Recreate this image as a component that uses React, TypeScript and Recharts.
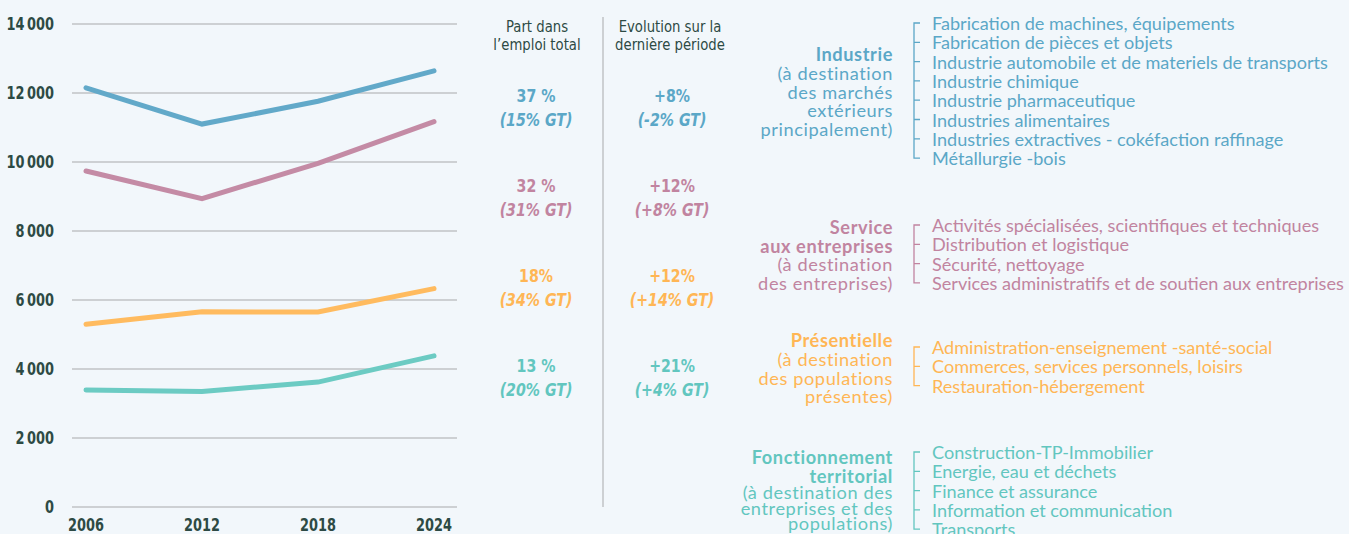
import React from "react";
import { LineChart, Line, XAxis, YAxis, CartesianGrid } from "recharts";

const years = ["2006", "2012", "2018", "2024"];
const industrie = [12150, 11100, 11760, 12640];
const service = [9740, 8940, 9960, 11170];
const presentielle = [5300, 5660, 5650, 6330];
const fonctionnement = [3390, 3350, 3620, 4380];
const yTicks = [0, 2000, 4000, 6000, 8000, 10000, 12000, 14000];

const shareHeader = ["Part dans", "l\u2019emploi total"];
const evolHeader = ["Evolution sur la", "dernière période"];
const shares = ["37 %", "32 %", "18%", "13 %"];
const sharesGT = ["(15% GT)", "(31% GT)", "(34% GT)", "(20% GT)"];
const evols = ["+8%", "+12%", "+12%", "+21%"];
const evolsGT = ["(-2% GT)", "(+8% GT)", "(+14% GT)", "(+4% GT)"];

const industrieTitle = ["Industrie"];
const industrieSub = ["(à destination", "des marchés", "extérieurs", "principalement)"];
const industrieItems = [
  "Fabrication de machines, équipements",
  "Fabrication de pièces et objets",
  "Industrie automobile et de materiels de transports",
  "Industrie chimique",
  "Industrie pharmaceutique",
  "Industries alimentaires",
  "Industries extractives - cokéfaction raffinage",
  "Métallurgie -bois",
];
const serviceTitle = ["Service", "aux entreprises"];
const serviceSub = ["(à destination", "des entreprises)"];
const serviceItems = [
  "Activités spécialisées, scientifiques et techniques",
  "Distribution et logistique",
  "Sécurité, nettoyage",
  "Services administratifs et de soutien aux entreprises",
];
const presTitle = ["Présentielle"];
const presSub = ["(à destination", "des populations", "présentes)"];
const presItems = [
  "Administration-enseignement -santé-social",
  "Commerces, services personnels, loisirs",
  "Restauration-hébergement",
];
const foncTitle = ["Fonctionnement", "territorial"];
const foncSub = ["(à destination des", "entreprises et des", "populations)"];
const foncItems = [
  "Construction-TP-Immobilier",
  "Energie, eau et déchets",
  "Finance et assurance",
  "Information et communication",
  "Transports",
];

const colors = ["#62a9c9", "#c48ba5", "#ffbb5f", "#6ccbc3"];
const textColors = ["#5ba7c7", "#c184a0", "#ffb655", "#62c6bf"];
const dark = "#2d4a44";
const condensed = "'DejaVu Sans Condensed', 'DejaVu Sans', sans-serif";
const body = "Lato, 'Open Sans', sans-serif";

const data = years.map((year, i) => ({
  year,
  industrie: industrie[i],
  service: service[i],
  presentielle: presentielle[i],
  fonctionnement: fonctionnement[i],
}));

const fmt = (v: number) => (v >= 1000 ? `${Math.floor(v / 1000)}\u202F${String(v % 1000).padStart(3, "0")}` : String(v));

// squeezed text, to get close to the narrow font of the original
function Narrow({ x, y, anchor, size, sx, italic, fill, weight, children }: any) {
  return (
    <text
      transform={`translate(${x},${y}) scale(${sx},1)`}
      textAnchor={anchor}
      dominantBaseline="central"
      fontFamily={condensed}
      fontSize={size}
      fontWeight={weight ?? 700}
      fontStyle={italic ? "italic" : "normal"}
      fill={fill}
    >
      {children}
    </text>
  );
}

const YTick = ({ x, y, payload }: any) => (
  <Narrow x={x} y={y} anchor="end" size={17.5} sx={0.82} fill={dark}>{fmt(payload.value)}</Narrow>
);
const XTick = ({ x, y, payload }: any) => (
  <Narrow x={x} y={y + 7} anchor="middle" size={17.5} sx={0.82} fill={dark}>{payload.value}</Narrow>
);

const groups = [
  { title: industrieTitle, sub: industrieSub, items: industrieItems, labelY: [54, 73, 92, 110, 129], itemY: 23 },
  { title: serviceTitle, sub: serviceSub, items: serviceItems, labelY: [227, 246, 264, 283], itemY: 225 },
  { title: presTitle, sub: presSub, items: presItems, labelY: [340, 359, 378, 396], itemY: 347 },
  { title: foncTitle, sub: foncSub, items: foncItems, labelY: [457, 476, 492, 508, 523], itemY: 452 },
];
const rowY = [96, 186, 276, 366];

export default function App() {
  return (
    <div style={{ position: "absolute", left: 0, top: 0, width: 1349, height: 534, background: "#f2f7fb", overflow: "hidden" }}>
      <LineChart width={470} height={534} data={data} margin={{ top: 24, right: 13, bottom: 0, left: 0 }}>
        <CartesianGrid vertical={false} stroke="#cdd0d3" strokeWidth={2} />
        <XAxis
          dataKey="year"
          axisLine={false}
          tickLine={false}
          tickSize={0}
          tickMargin={11}
          height={27}
          padding={{ left: 14, right: 23 }}
          interval={0}
          tick={<XTick />}
        />
        <YAxis
          width={72}
          domain={[0, 14000]}
          ticks={yTicks}
          axisLine={false}
          tickLine={false}
          tickSize={0}
          tickMargin={18}
          tick={<YTick />}
        />
        <Line dataKey="industrie" stroke={colors[0]} strokeWidth={5} dot={false} strokeLinecap="round" isAnimationActive={false} />
        <Line dataKey="service" stroke={colors[1]} strokeWidth={5} dot={false} strokeLinecap="round" isAnimationActive={false} />
        <Line dataKey="presentielle" stroke={colors[2]} strokeWidth={5} dot={false} strokeLinecap="round" isAnimationActive={false} />
        <Line dataKey="fonctionnement" stroke={colors[3]} strokeWidth={5} dot={false} strokeLinecap="round" isAnimationActive={false} />
      </LineChart>
      <svg width={1349} height={534} style={{ position: "absolute", left: 0, top: 0 }}>
        {shareHeader.map((t, i) => (
          <Narrow key={"sh" + i} x={537} y={27 + i * 18} anchor="middle" size={15.5} sx={0.95} weight={400} fill={dark}>{t}</Narrow>
        ))}
        {evolHeader.map((t, i) => (
          <Narrow key={"eh" + i} x={670} y={27 + i * 18} anchor="middle" size={15.5} sx={0.95} weight={400} fill={dark}>{t}</Narrow>
        ))}
        <line x1={603} x2={603} y1={17} y2={507} stroke="#cdd0d3" strokeWidth={2} />
        {rowY.map((y, i) => (
          <g key={"r" + i}>
            <Narrow x={536} y={y} anchor="middle" size={17.5} sx={0.9} fill={textColors[i]}>{shares[i]}</Narrow>
            <Narrow x={536} y={y + 24} anchor="middle" size={17.5} sx={0.9} italic fill={textColors[i]}>{sharesGT[i]}</Narrow>
            <Narrow x={672} y={y} anchor="middle" size={17.5} sx={0.9} fill={textColors[i]}>{evols[i]}</Narrow>
            <Narrow x={672} y={y + 24} anchor="middle" size={17.5} sx={0.9} italic fill={textColors[i]}>{evolsGT[i]}</Narrow>
          </g>
        ))}
        {groups.map((g, gi) => {
          const lines = [...g.title, ...g.sub];
          const ys = g.items.map((_, k) => g.itemY + k * 19.3);
          const last = ys[ys.length - 1];
          return (
            <g key={"g" + gi} fill={textColors[gi]} fontFamily={body}>
              {lines.map((t, k) => (
                <text
                  key={k}
                  x={893}
                  y={g.labelY[k]}
                  textAnchor="end"
                  dominantBaseline="central"
                  fontSize={18.2}
                  letterSpacing={0.6}
                  fontWeight={k < g.title.length ? 700 : 400}
                >
                  {t}
                </text>
              ))}
              <path
                d={`M920 ${g.itemY} H914 V${last} H920 ` + ys.slice(1, -1).map((y) => `M914 ${y} H920`).join(" ")}
                fill="none"
                stroke={textColors[gi]}
                strokeWidth={1.3}
              />
              {g.items.map((t, k) => (
                <text key={"i" + k} x={932} y={ys[k]} dominantBaseline="central" fontSize={18.1}>{t}</text>
              ))}
            </g>
          );
        })}
      </svg>
    </div>
  );
}
